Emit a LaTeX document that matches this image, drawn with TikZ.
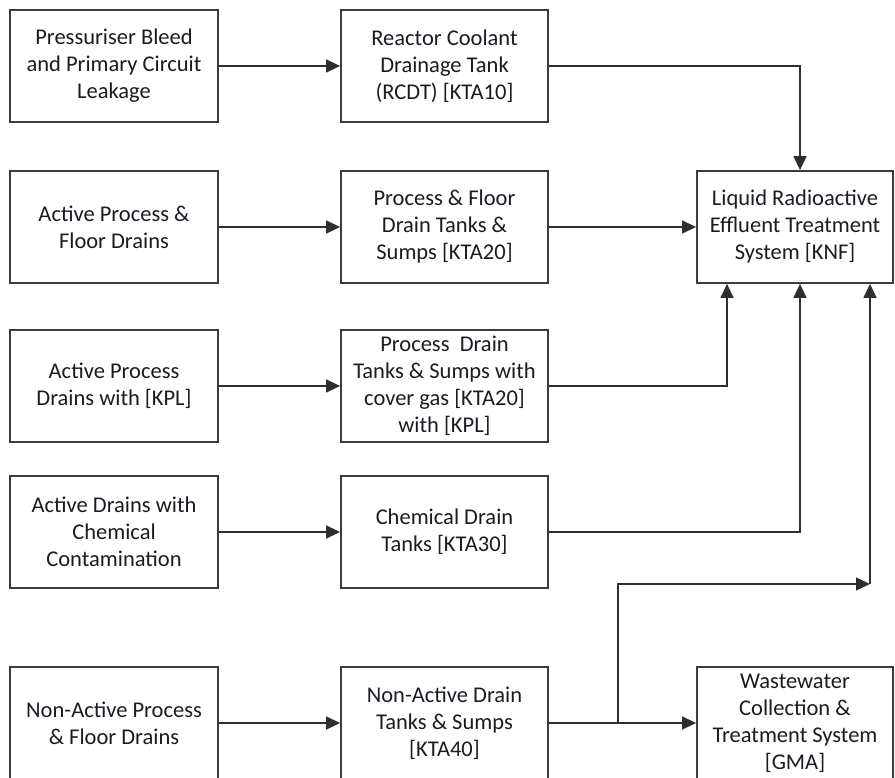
\documentclass[tikz,border=0pt]{standalone}
\usepackage{fontspec}
\setmainfont{Carlito}
\usetikzlibrary{arrows.meta,calc}
\definecolor{boxgray}{HTML}{3C3C3C}
\definecolor{linegray}{HTML}{2E2E2E}
\definecolor{txt}{HTML}{1E1A24}
\begin{document}
\begin{tikzpicture}[x=1pt,y=-1pt,
  box/.style={draw=boxgray, line width=1.8pt, fill=white,
    minimum height=112pt, align=center, inner sep=0pt, text=txt,
    font=\fontsize{22.5}{27}\selectfont},
  lbox/.style={box, minimum width=208pt},
  mbox/.style={box, minimum width=207pt},
  rbox/.style={box, minimum width=196pt},
  conn/.style={draw=linegray, line width=1.4pt,
    -{Triangle[length=14pt,width=13pt]}}]
\useasboundingbox (0,0) rectangle (895,778);

% source column
\node[lbox] (src1) at (114,66)  {Pressuriser Bleed\\and Primary Circuit\\Leakage};
\node[lbox] (src2) at (114,227) {Active Process \&\\Floor Drains};
\node[lbox] (src3) at (114,386) {Active Process\\Drains with [KPL]};
\node[lbox] (src4) at (114,532) {Active Drains with\\Chemical\\Contamination};
\node[lbox] (src5) at (114,723) {Non-Active Process\\\& Floor Drains};

% tank column
\node[mbox] (tk1) at (444.5,66)  {Reactor Coolant\\Drainage Tank\\(RCDT) [KTA10]};
\node[mbox] (tk2) at (444.5,227) {Process \& Floor\\Drain Tanks \&\\Sumps [KTA20]};
\node[mbox] (tk3) at (444.5,386) {Process~~Drain\\Tanks \& Sumps with\\cover gas [KTA20]\\with [KPL]};
\node[mbox] (tk4) at (444.5,532) {Chemical Drain\\Tanks [KTA30]};
\node[mbox] (tk5) at (444.5,723) {Non-Active Drain\\Tanks \& Sumps\\{}[KTA40]};

% treatment systems
\node[rbox] (knf) at (795,227) {Liquid Radioactive\\Effluent Treatment\\System [KNF]};
\node[rbox] (gma) at (795,723) {Wastewater\\Collection \&\\Treatment System\\{}[GMA]};

% sources to tanks
\foreach \i in {1,...,5} \draw[conn] (src\i) -- (tk\i);

% tanks to KNF
\draw[conn] (tk1.east) -| ([xshift=5pt]knf.north);
\draw[conn] (tk2) -- (knf);
\draw[conn] (tk3.east) -| ([xshift=-68pt]knf.south);
\draw[conn] (tk4.east) -| ([xshift=5pt]knf.south);

% non-active tanks to GMA, with a branch up to KNF
\draw[conn] (tk5) -- (gma);
\coordinate (split) at (618,723);
\coordinate (turn) at (870,584);
\draw[conn] (split) |- (turn);
\draw[conn] (turn) -- (turn |- knf.south);
\end{tikzpicture}
\end{document}
